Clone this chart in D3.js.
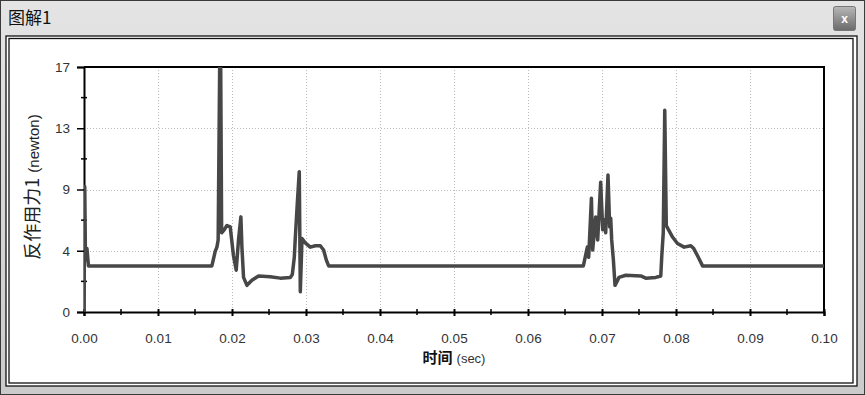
<!DOCTYPE html>
<html><head><meta charset="utf-8">
<script src="https://cdn.jsdelivr.net/npm/d3@7"></script>
<style>
html,body{margin:0;padding:0;background:#fff;}
svg{display:block;}
</style></head>
<body>
<script>
// ---- data ----
const timeSec = [
  0, 0.0001, 0.0002, 0.0004, 0.0006,
  0.01728, 0.01773, 0.01796, 0.01813, 0.01834, 0.01847, 0.0186, 0.01894, 0.01931, 0.01976,
  0.0202, 0.02057, 0.02088, 0.0212, 0.02134, 0.02156, 0.02202, 0.02269, 0.02359, 0.02517,
  0.02652, 0.02788, 0.02815, 0.02842, 0.02855, 0.02882, 0.02909, 0.02923, 0.02946, 0.0299,
  0.03058, 0.03126, 0.03193, 0.03238, 0.03275, 0.03306,
  0.06748, 0.06802, 0.0682, 0.06857, 0.06874, 0.06915, 0.06942, 0.06982, 0.0701, 0.07027,
  0.0705, 0.07081, 0.07104, 0.07118, 0.07131, 0.07154, 0.07176, 0.0723, 0.07321, 0.07524,
  0.07591, 0.07727, 0.07794, 0.07808, 0.07828, 0.07848, 0.07869, 0.07889, 0.07953, 0.0802,
  0.0811, 0.0820, 0.0824, 0.08291, 0.08359, 0.1
];
const reactionForce = [
  0, 8.7, 3.6, 4.4, 3.2,
  3.2, 4.2, 4.5, 5.0, 17.4, 17.4, 5.5, 5.7, 6.0, 5.9,
  3.9, 2.9, 5.0, 6.6, 4.5, 2.4, 1.85, 2.2, 2.5, 2.45,
  2.35, 2.4, 2.6, 3.8, 5.1, 7.5, 9.74, 1.4, 5.1, 4.8,
  4.5, 4.6, 4.6, 4.3, 3.6, 3.2,
  3.2, 4.5, 3.8, 7.9, 4.3, 6.6, 5.0, 9.0, 5.7, 6.4,
  5.5, 9.5, 5.9, 6.5, 5.0, 3.6, 1.85, 2.4, 2.55, 2.5,
  2.35, 2.4, 2.5, 3.9, 5.5, 14.0, 6.0, 5.8, 5.2, 4.75,
  4.5, 4.6, 4.4, 3.9, 3.2, 3.2
];
const xTickValues = [0,0.01,0.02,0.03,0.04,0.05,0.06,0.07,0.08,0.09,0.10];
const xTickLabels = ["0.00","0.01","0.02","0.03","0.04","0.05","0.06","0.07","0.08","0.09","0.10"];
const yTickValues = [0,4.25,8.5,12.75,17];
const yTickLabels = ["0","4","9","13","17"];
const windowTitle = "图解1";
const yAxisTitle = "反作用力1";
const yAxisUnit = "(newton)";
const xAxisTitle = "时间";
const xAxisUnit = "(sec)";

// ---- layout ----
const W = 865, H = 395;
const plot = {l:84, r:824, t:67, b:312};

const svg = d3.select("body").append("svg").attr("width",W).attr("height",H)
  .style("font-family","'Liberation Sans', Arial, sans-serif");
const defs = svg.append("defs");
const g1 = defs.append("linearGradient").attr("id","tb").attr("x1",0).attr("y1",0).attr("x2",0).attr("y2",1);
g1.append("stop").attr("offset","0%").attr("stop-color","#e4e4e4");
g1.append("stop").attr("offset","100%").attr("stop-color","#cbcbcb");
const g2 = defs.append("linearGradient").attr("id","btn").attr("x1",0).attr("y1",0).attr("x2",0).attr("y2",1);
g2.append("stop").attr("offset","0%").attr("stop-color","#b8b8b8");
g2.append("stop").attr("offset","100%").attr("stop-color","#6a6a6a");
defs.append("clipPath").attr("id","clip").append("rect")
  .attr("x",plot.l).attr("y",plot.t).attr("width",plot.r-plot.l).attr("height",plot.b-plot.t);

// window chrome
svg.append("rect").attr("x",0).attr("y",0).attr("width",W).attr("height",H).attr("fill","#c9c9c9");
svg.append("rect").attr("x",0.5).attr("y",0.5).attr("width",W-1).attr("height",H-1).attr("fill","url(#tb)").attr("stroke","#3a3a3a");
svg.append("text").attr("x",8).attr("y",24).attr("font-size",17)
  .style("font-family","'Noto Sans CJK SC', sans-serif").attr("fill","#111").text(windowTitle);
svg.append("rect").attr("x",833.5).attr("y",6.5).attr("width",22).attr("height",24).attr("rx",2)
  .attr("fill","url(#btn)").attr("stroke","#777");
svg.append("text").attr("x",844.5).attr("y",23).attr("text-anchor","middle").attr("font-size",12)
  .attr("font-weight","bold").attr("fill","#fff").text("x");
// inner panel
svg.append("rect").attr("x",6).attr("y",36).attr("width",851).attr("height",350).attr("fill","#fff")
  .attr("stroke","#111").attr("stroke-width",1.3);
svg.append("rect").attr("x",9).attr("y",38.5).attr("width",844).attr("height",344.5).attr("fill","#fff")
  .attr("stroke","#111").attr("stroke-width",1.3);

// scales
const x = d3.scaleLinear().domain([0,0.1]).range([plot.l,plot.r]);
const y = d3.scaleLinear().domain([0,17]).range([plot.b,plot.t]);

// grid lines
const grid = svg.append("g").attr("stroke","#bbb").attr("stroke-dasharray","1,2").attr("stroke-width",1);
xTickValues.slice(1,-1).forEach(v=>{
  grid.append("line").attr("x1",Math.round(x(v))+0.5).attr("x2",Math.round(x(v))+0.5).attr("y1",plot.t).attr("y2",plot.b);
});
yTickValues.slice(1,-1).forEach(v=>{
  grid.append("line").attr("y1",Math.round(y(v))+0.5).attr("y2",Math.round(y(v))+0.5).attr("x1",plot.l).attr("x2",plot.r);
});

// frame (top / right)
svg.append("line").attr("x1",plot.l).attr("x2",plot.r+1).attr("y1",plot.t).attr("y2",plot.t).attr("stroke","#000").attr("stroke-width",2);
svg.append("line").attr("x1",plot.r).attr("x2",plot.r).attr("y1",plot.t).attr("y2",plot.b).attr("stroke","#000").attr("stroke-width",2);

// axes
const xAxis = d3.axisBottom(x).tickValues(xTickValues).tickSize(4)
  .tickFormat((d,i)=>xTickLabels[i]).tickPadding(17);
const gx = svg.append("g").attr("transform",`translate(0,${plot.b})`).call(xAxis);
gx.select(".domain").attr("stroke","#000").attr("stroke-width",2);
gx.selectAll(".tick line").attr("stroke","#000").attr("stroke-width",2).attr("y1",-3);
gx.selectAll("text").attr("font-size",13.5).attr("fill","#333");
const xMinor = d3.range(0.005,0.1,0.01);
svg.append("g").selectAll("line").data(xMinor).join("line")
  .attr("x1",d=>x(d)).attr("x2",d=>x(d)).attr("y1",plot.b-3).attr("y2",plot.b+3)
  .attr("stroke","#000").attr("stroke-width",1.5);

const yAxis = d3.axisLeft(y).tickValues(yTickValues).tickSize(7)
  .tickFormat((d,i)=>yTickLabels[i]).tickPadding(7);
const gy = svg.append("g").attr("transform",`translate(${plot.l},0)`).call(yAxis);
gy.select(".domain").attr("stroke","#000").attr("stroke-width",2);
gy.selectAll(".tick line").attr("stroke","#000").attr("stroke-width",1.5);
gy.selectAll("text").attr("font-size",13.5).attr("fill","#333");
const yMinor = d3.range(2.125,17,4.25);
svg.append("g").selectAll("line").data(yMinor).join("line")
  .attr("x1",plot.l-3).attr("x2",plot.l+3).attr("y1",d=>y(d)).attr("y2",d=>y(d))
  .attr("stroke","#000").attr("stroke-width",1.5);

// data line
const pts = timeSec.map((t,i)=>[t,reactionForce[i]]);
svg.append("path").datum(pts).attr("clip-path","url(#clip)")
  .attr("fill","none").attr("stroke","#474747").attr("stroke-width",3.5).attr("stroke-linejoin","round")
  .attr("d",d3.line().x(d=>x(d[0])).y(d=>y(d[1])));

// axis titles
const yt = svg.append("text").attr("transform","translate(39,187) rotate(-90)").attr("text-anchor","middle").attr("fill","#222");
yt.append("tspan").attr("font-size",18).style("font-family","'Noto Sans CJK SC', sans-serif").text(yAxisTitle);
yt.append("tspan").attr("font-size",15).attr("dx",5).text(yAxisUnit);
const xt = svg.append("text").attr("x",454).attr("y",363).attr("text-anchor","middle").attr("fill","#111");
xt.append("tspan").attr("font-size",15).attr("font-weight","bold").style("font-family","'Noto Sans CJK SC', sans-serif").text(xAxisTitle);
xt.append("tspan").attr("font-size",13).attr("dx",4).attr("fill","#333").text(xAxisUnit);
</script>
</body></html>
